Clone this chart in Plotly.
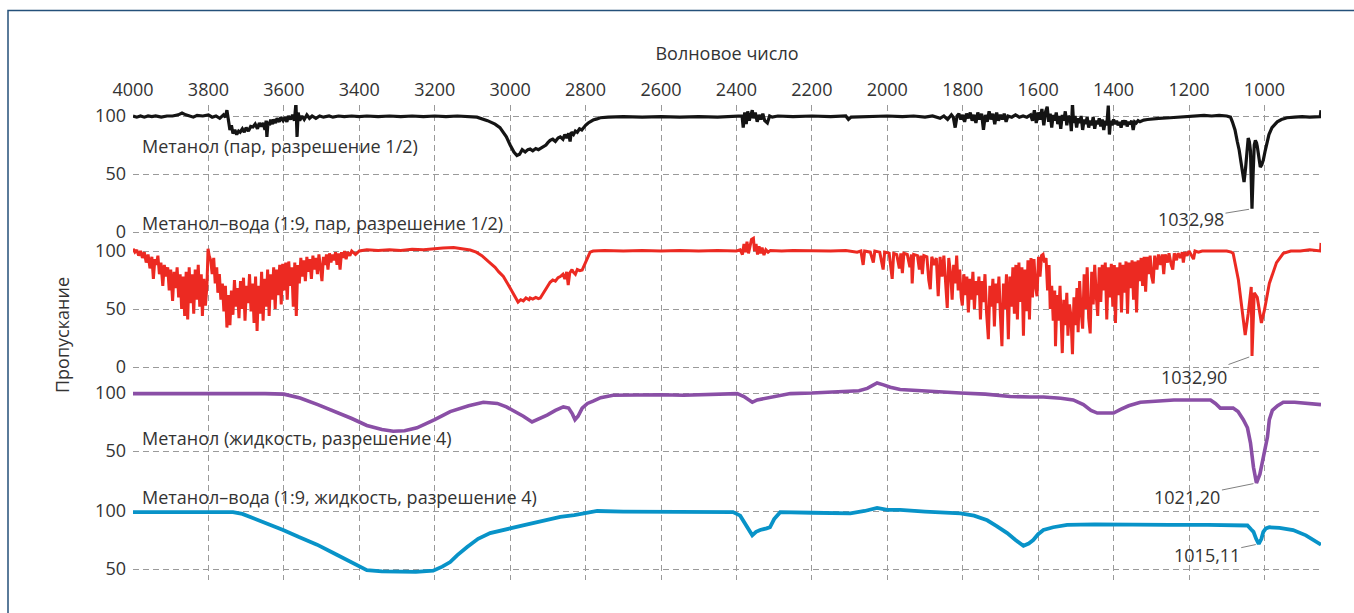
import plotly.graph_objects as go

# ---------------------------------------------------------------------------
# Spectra: (wavenumber, transmittance %) pairs, one list per sample
# ---------------------------------------------------------------------------
X_TICKS = [4000, 3800, 3600, 3400, 3200, 3000, 2800, 2600, 2400, 2200,
           2000, 1800, 1600, 1400, 1200, 1000]
X_RANGE = [4000, 850]

# labelled band minima
PEAK_MV = (1032.98, 20.0)     # methanol vapour
PEAK_MWV = (1032.90, 9.5)     # methanol-water vapour
PEAK_ML = (1021.20, 22.4)     # liquid methanol
PEAK_MWL = (1015.11, 71.6)    # liquid methanol-water

METHANOL_VAPOUR = [
    (4000, 100), (3990, 99), (3980, 100), (3970, 99), (3960, 100), (3950, 99.5),
    (3940, 100), (3925, 99), (3910, 100), (3895, 100), (3880, 101), (3870, 102.6),
    (3860, 101), (3850, 100), (3840, 99), (3830, 100.5), (3815, 100), (3800, 101),
    (3790, 99), (3780, 100), (3770, 98), (3760, 101), (3755, 99), (3751, 105),
    (3747, 96), (3743, 88), (3739, 92), (3735, 85), (3730, 88), (3725, 84),
    (3720, 87), (3716, 86), (3710, 89), (3705, 86), (3700, 90), (3694, 87),
    (3688, 91), (3682, 90.5), (3676, 93), (3670, 89), (3665, 94), (3660, 91),
    (3655, 94), (3650, 88), (3647, 96), (3645, 82), (3642, 95), (3638, 92),
    (3635, 97), (3630, 93), (3627, 97), (3622, 94), (3618, 98), (3612, 95),
    (3608, 99), (3602, 96), (3597, 99), (3592, 95), (3588, 100), (3582, 97),
    (3577, 101), (3572, 96), (3568, 111), (3565, 82), (3562, 103), (3558, 96),
    (3552, 100), (3546, 97), (3539, 101), (3532, 98), (3525, 100), (3515, 98),
    (3505, 100), (3495, 99), (3480, 100), (3470, 99), (3455, 100), (3440, 99.5),
    (3420, 100), (3400, 99.5), (3380, 100), (3350, 99.5), (3320, 100), (3290, 99.5),
    (3260, 100), (3230, 99.5), (3200, 100), (3170, 99.5), (3140, 100), (3110, 99.5),
    (3088, 99), (3060, 96), (3040, 93), (3027, 90), (3010, 82), (3000, 75),
    (2990, 69), (2982, 66), (2975, 67), (2968, 71), (2960, 69), (2953, 71),
    (2947, 71.5), (2940, 70), (2932, 72), (2925, 71), (2920, 72), (2912, 74),
    (2905, 75), (2900, 77), (2894, 79), (2887, 80), (2880, 78), (2873, 81),
    (2867, 82), (2860, 80), (2855, 84), (2850, 81), (2845, 85), (2841, 78),
    (2838, 86), (2832, 84), (2827, 87), (2822, 86), (2816, 89), (2810, 88),
    (2806, 90), (2800, 92), (2793, 94), (2787, 95.5), (2780, 96.5), (2770, 97.5),
    (2761, 98.5), (2740, 99), (2700, 99.5), (2650, 99), (2600, 99.5), (2550, 99),
    (2500, 99.5), (2450, 99), (2390, 99.5), (2385, 100), (2382, 90), (2378, 103),
    (2374, 93), (2370, 104), (2366, 96), (2362, 101), (2358, 105), (2355, 98),
    (2350, 103), (2345, 95), (2340, 101), (2335, 97), (2330, 102), (2325, 96),
    (2318, 94), (2312, 100), (2305, 99), (2290, 100), (2250, 99.5), (2200, 100),
    (2150, 99.5), (2110, 100), (2103, 97), (2096, 99), (2050, 99.5), (2000, 100),
    (1960, 99.5), (1930, 100), (1900, 99), (1880, 100), (1860, 98), (1850, 100),
    (1840, 97), (1830, 101), (1825, 99), (1820, 90), (1815, 100), (1810, 102),
    (1805, 97), (1800, 101), (1795, 95), (1790, 102), (1785, 98), (1780, 103),
    (1775, 96), (1770, 101), (1765, 94), (1760, 103), (1755, 97), (1750, 102),
    (1745, 88), (1740, 101), (1735, 95), (1730, 104), (1725, 97), (1720, 102),
    (1715, 93), (1710, 103), (1705, 96), (1700, 101), (1695, 97), (1690, 102),
    (1685, 95), (1680, 100), (1670, 99), (1660, 101), (1650, 99), (1640, 100),
    (1630, 99), (1620, 101), (1615, 96), (1610, 105), (1605, 94), (1600, 103),
    (1595, 97), (1590, 106), (1585, 92), (1580, 104), (1576, 108), (1572, 95),
    (1568, 102), (1564, 90), (1560, 101), (1556, 96), (1552, 103), (1548, 93),
    (1544, 100), (1540, 89), (1536, 101), (1532, 96), (1528, 104), (1524, 92),
    (1520, 100), (1515, 98), (1512, 87), (1509, 111), (1506, 94), (1502, 100),
    (1498, 90), (1494, 98), (1490, 94), (1486, 100), (1482, 88), (1478, 97),
    (1474, 93), (1470, 99), (1466, 90), (1462, 96), (1458, 92), (1454, 99),
    (1450, 89), (1446, 96), (1442, 93), (1438, 98), (1434, 91), (1430, 97),
    (1426, 88), (1422, 96), (1418, 92), (1414, 109), (1411, 84), (1408, 96),
    (1404, 92), (1400, 97), (1396, 93), (1392, 96), (1388, 92), (1384, 95),
    (1380, 90), (1376, 96), (1372, 94), (1368, 96), (1364, 91), (1360, 95),
    (1356, 93), (1352, 96), (1348, 88), (1344, 95), (1340, 94), (1335, 96),
    (1330, 95), (1320, 96.5), (1310, 97), (1300, 97.5), (1280, 98), (1250, 98.5),
    (1220, 99), (1200, 99.5), (1180, 100), (1160, 100.5), (1140, 100), (1120, 100.5),
    (1100, 100), (1090, 99), (1085, 95), (1078, 88), (1072, 78), (1067, 70.7),
    (1062, 60), (1058, 50), (1054, 43), (1050, 55), (1046, 70), (1043, 81),
    (1040, 78), (1037, 70), (1035, 45), PEAK_MV, (1030, 50), (1027, 75),
    (1024, 79), (1021, 77), (1019, 74), (1015, 66), (1011, 56), (1007, 58),
    (1003, 62), (998, 70), (993, 78), (988, 84), (980, 90), (972, 93),
    (966, 95), (955, 97), (940, 98.5), (920, 99), (900, 99.5), (880, 99),
    (860, 99.5), (852, 99.5), (850, 105),
]

METHANOL_WATER_VAPOUR = [
    (4000, 102), (3995, 99), (3990, 101), (3985, 96), (3980, 100), (3975, 94),
    (3970, 99), (3965, 90), (3960, 97), (3955, 85), (3950, 95), (3946, 76),
    (3942, 93), (3938, 88), (3934, 96), (3930, 80), (3926, 90), (3921, 70),
    (3917, 88), (3912, 78), (3908, 86), (3904, 66), (3900, 84), (3895, 57),
    (3891, 82), (3887, 68), (3883, 86), (3879, 60), (3875, 80), (3871, 50),
    (3867, 78), (3863, 44), (3859, 82), (3855, 41), (3851, 86), (3847, 55),
    (3843, 80), (3839, 46), (3835, 84), (3831, 58), (3827, 88), (3823, 52),
    (3819, 80), (3816, 44), (3812, 76), (3808, 53), (3804, 70), (3801, 102),
    (3798, 96), (3794, 92), (3790, 80), (3786, 94), (3782, 72), (3778, 86),
    (3775, 64), (3771, 80), (3767, 58), (3763, 72), (3759, 48), (3755, 70),
    (3751, 34), (3747, 62), (3743, 36), (3739, 66), (3735, 45), (3731, 75),
    (3727, 52), (3723, 68), (3719, 42), (3715, 74), (3711, 50), (3707, 77),
    (3703, 40), (3699, 70), (3695, 55), (3691, 80), (3687, 48), (3683, 72),
    (3679, 38), (3675, 78), (3671, 31), (3667, 70), (3663, 46), (3659, 82),
    (3655, 40), (3651, 76), (3647, 52), (3643, 84), (3639, 44), (3635, 80),
    (3631, 58), (3627, 86), (3623, 50), (3619, 84), (3615, 62), (3611, 88),
    (3607, 54), (3603, 89), (3599, 66), (3595, 90), (3591, 58), (3587, 91),
    (3583, 70), (3579, 86), (3575, 52), (3571, 90), (3567, 44), (3563, 88),
    (3559, 72), (3555, 94), (3551, 78), (3547, 92), (3543, 74), (3539, 95),
    (3535, 82), (3531, 93), (3527, 76), (3523, 96), (3519, 84), (3515, 94),
    (3511, 80), (3507, 97), (3503, 86), (3499, 74), (3495, 95), (3491, 88),
    (3487, 97), (3483, 84), (3479, 98), (3475, 90), (3471, 97), (3467, 92),
    (3463, 99), (3459, 88), (3455, 98), (3451, 84), (3447, 99), (3443, 94),
    (3439, 100), (3435, 93), (3431, 99), (3425, 96), (3420, 100), (3410, 97),
    (3400, 100), (3380, 101), (3350, 100.5), (3320, 101), (3290, 100.5), (3260, 101.5),
    (3230, 101), (3200, 101.5), (3178, 102.5), (3150, 103), (3125, 102), (3106, 100.8),
    (3090, 99), (3075, 96), (3058, 91), (3053, 89.6), (3040, 86), (3030, 82),
    (3018, 78), (3005, 71), (2992, 64), (2985, 60), (2979, 56), (2972, 58),
    (2965, 57), (2958, 59.5), (2950, 58), (2947, 59.5), (2940, 58.5), (2932, 60),
    (2925, 59), (2920, 59.5), (2912, 64), (2905, 67), (2900, 70), (2894, 73),
    (2887, 75), (2880, 74), (2873, 77), (2867, 78), (2860, 80), (2855, 76),
    (2850, 82), (2846, 70.7), (2842, 81), (2836, 84), (2833, 82), (2827, 80),
    (2822, 84), (2815, 83), (2809, 83.6), (2803, 88), (2796, 94), (2788, 99),
    (2780, 100), (2750, 100.5), (2700, 100), (2650, 100.5), (2600, 100), (2550, 100.5),
    (2500, 100), (2450, 100.5), (2400, 100), (2390, 101), (2384, 97), (2380, 106),
    (2376, 99), (2372, 108), (2368, 98), (2364, 104), (2360, 110), (2355, 111),
    (2352, 100), (2348, 106), (2344, 97), (2340, 104), (2336, 98), (2332, 103),
    (2327, 96.5), (2322, 101), (2316, 99), (2310, 100.5), (2280, 100), (2250, 100.5),
    (2200, 100), (2150, 100), (2110, 100.5), (2100, 100), (2080, 99), (2070, 100),
    (2064, 88), (2060, 100), (2045, 99), (2037, 90), (2033, 100), (2020, 99),
    (2011, 84), (2007, 99), (1995, 98), (1987, 76), (1983, 98), (1975, 97),
    (1968, 85), (1964, 98), (1960, 81), (1956, 98), (1947, 97), (1940, 86),
    (1936, 97), (1934, 72), (1930, 97), (1920, 96), (1915, 84), (1911, 96),
    (1907, 80), (1903, 96), (1895, 95), (1890, 75), (1886, 67), (1882, 95),
    (1875, 88), (1870, 94), (1865, 61), (1860, 95), (1855, 78), (1850, 96),
    (1845, 70), (1841, 51), (1837, 94), (1832, 80), (1828, 58), (1824, 88),
    (1820, 72), (1816, 96), (1812, 66), (1808, 84), (1804, 60), (1801, 53),
    (1797, 80), (1793, 62), (1789, 78), (1785, 47), (1781, 76), (1777, 58),
    (1773, 82), (1769, 50), (1765, 74), (1761, 62), (1757, 78), (1753, 41),
    (1749, 74), (1745, 56), (1741, 80), (1737, 48), (1732, 24), (1728, 70),
    (1724, 52), (1720, 76), (1716, 35), (1712, 72), (1708, 55), (1704, 78),
    (1700, 44), (1696, 18), (1692, 72), (1688, 50), (1684, 80), (1679, 24),
    (1675, 78), (1671, 52), (1667, 86), (1663, 46), (1659, 88), (1655, 41),
    (1651, 90), (1647, 56), (1643, 86), (1639, 27), (1635, 84), (1631, 48),
    (1627, 92), (1623, 41), (1619, 94), (1615, 60), (1611, 93), (1607, 70),
    (1603, 61), (1599, 95), (1595, 78), (1591, 96), (1587, 97), (1583, 90),
    (1579, 94), (1575, 66), (1571, 88), (1568, 50), (1564, 70), (1560, 40),
    (1556, 66), (1554, 18), (1550, 62), (1546, 40), (1542, 70), (1538, 26),
    (1536, 12), (1532, 58), (1528, 36), (1524, 64), (1521, 27), (1517, 54),
    (1513, 44), (1509, 11), (1505, 60), (1501, 36), (1497, 68), (1494, 30),
    (1490, 74), (1486, 48), (1482, 33), (1478, 80), (1474, 50), (1470, 86),
    (1466, 42), (1462, 29), (1458, 82), (1454, 54), (1450, 88), (1446, 62),
    (1442, 44), (1438, 86), (1434, 56), (1430, 88), (1426, 66), (1422, 90),
    (1418, 41), (1414, 86), (1410, 60), (1406, 89), (1402, 52), (1398, 88),
    (1395, 38), (1391, 86), (1387, 62), (1383, 90), (1379, 47), (1375, 88),
    (1371, 64), (1367, 91), (1363, 46), (1359, 90), (1355, 68), (1351, 92),
    (1347, 58), (1343, 91), (1339, 47), (1335, 92), (1331, 74), (1327, 94),
    (1323, 70), (1319, 95), (1315, 65), (1311, 95), (1307, 80), (1303, 96),
    (1299, 78), (1295, 72), (1291, 96), (1285, 84), (1281, 97), (1275, 88),
    (1271, 97), (1267, 80), (1263, 97), (1257, 90), (1253, 98), (1247, 88),
    (1243, 84), (1239, 98), (1233, 92), (1229, 98), (1222, 94), (1218, 99),
    (1215, 90), (1211, 99), (1205, 96), (1200, 100), (1194, 97), (1188, 93),
    (1184, 100), (1175, 99), (1165, 100), (1140, 100), (1100, 100), (1088, 99),
    (1083, 98), (1069, 75), (1059, 46.6), (1051, 27.6), (1043, 46), (1035, 69),
    PEAK_MWV, (1029, 55), (1027, 64), (1019, 60), (1008, 38), (1000, 49),
    (987, 72), (968, 90), (950, 98), (930, 100), (905, 100), (880, 101),
    (860, 100), (851, 100), (850, 107),
]

METHANOL_LIQUID = [
    (4000, 99.5), (3900, 99.5), (3800, 99.8), (3700, 99.5), (3650, 99.5), (3600, 99),
    (3557, 95.6), (3510, 90), (3470, 85), (3420, 78), (3380, 72), (3340, 68.5),
    (3310, 67), (3280, 67.5), (3247, 70), (3200, 77), (3159, 84), (3110, 89),
    (3071, 92), (3034, 91), (3010, 88), (2992, 85), (2965, 80), (2942, 75),
    (2920, 78), (2902, 81), (2880, 85), (2859, 88), (2845, 87), (2835, 82),
    (2828, 77), (2820, 80), (2809, 87), (2795, 91), (2780, 93), (2760, 96),
    (2727, 98), (2650, 98.5), (2600, 98.5), (2541, 98), (2500, 98.5), (2450, 99),
    (2398, 99.5), (2380, 97), (2365, 93), (2358, 92), (2345, 94), (2330, 95),
    (2318, 96), (2290, 98), (2257, 99.5), (2200, 100), (2150, 100.5), (2098, 101),
    (2075, 102), (2053, 104), (2035, 107.5), (2027, 108.6), (2010, 107), (1992, 105),
    (1966, 103), (1900, 101.5), (1850, 100.5), (1806, 100), (1740, 99), (1674, 97),
    (1620, 96.5), (1586, 96.5), (1540, 95.5), (1507, 94), (1480, 90), (1460, 85),
    (1443, 82.7), (1420, 82.5), (1400, 82.7), (1380, 86), (1360, 89), (1329, 92),
    (1280, 93.5), (1240, 94), (1196, 94), (1143, 94), (1130, 91), (1117, 87),
    (1100, 87), (1083, 87), (1070, 84), (1056, 77), (1045, 70), (1037, 57),
    (1029, 36), PEAK_ML, (1012, 30), (1003, 45), (992, 62), (987, 77),
    (979, 85), (965, 89), (950, 92), (920, 92), (878, 91), (860, 90.5), (850, 90),
]

METHANOL_WATER_LIQUID = [
    (4000, 99), (3900, 99), (3800, 99), (3735, 99), (3710, 97.5), (3690, 95),
    (3650, 90), (3602, 83.6), (3560, 77.5), (3512, 71), (3470, 64), (3424, 56),
    (3400, 52), (3380, 49), (3340, 48), (3300, 47.5), (3250, 47.5), (3204, 48.5),
    (3180, 52), (3159, 56), (3140, 62), (3114, 69), (3085, 76), (3053, 81),
    (3025, 83.5), (3000, 85), (2960, 88), (2928, 90.5), (2900, 92.5), (2867, 95),
    (2830, 96.5), (2801, 98), (2769, 100), (2700, 99.5), (2600, 99.5), (2500, 99.5),
    (2409, 99), (2390, 96), (2382, 92), (2370, 85), (2358, 79), (2348, 82),
    (2337, 83.6), (2320, 85), (2311, 86), (2300, 93), (2284, 99), (2200, 98.5),
    (2150, 98.5), (2098, 98), (2060, 100), (2027, 102.6), (2000, 101), (1966, 101),
    (1900, 99.5), (1850, 98.5), (1806, 98), (1770, 96), (1735, 92), (1710, 87),
    (1682, 81), (1660, 75), (1639, 70), (1625, 72), (1613, 75), (1600, 80),
    (1586, 83.6), (1560, 86), (1523, 88), (1450, 88.5), (1347, 88), (1250, 88),
    (1150, 88), (1060, 88), (1045, 87.5), (1035, 84), (1029, 82), (1022, 76),
    PEAK_MWL, (1008, 76), (1003, 82), (996, 85), (987, 86), (960, 85.5),
    (924, 83.6), (890, 79), (870, 75), (855, 71.6), (850, 71),
]

SERIES = [METHANOL_VAPOUR, METHANOL_WATER_VAPOUR, METHANOL_LIQUID, METHANOL_WATER_LIQUID]
PEAKS = [PEAK_MV, PEAK_MWV, PEAK_ML, PEAK_MWL]
PEAK_LABELS = ["1032,98", "1032,90", "1021,20", "1015,11"]
SERIES_LABELS = [
    "Метанол (пар, разрешение 1/2)",
    "Метанол–вода (1:9, пар, разрешение 1/2)",
    "Метанол (жидкость, разрешение 4)",
    "Метанол–вода (1:9, жидкость, разрешение 4)",
]
SERIES_COLORS = ["#141414", "#ec2a22", "#8a4fa6", "#0893c8"]
SERIES_WIDTHS = [3.2, 3.0, 3.6, 3.8]
Y_TICKS = [[0, 50, 100], [0, 50, 100], [50, 100], [50, 100]]

# ---------------------------------------------------------------------------
# Layout geometry
# ---------------------------------------------------------------------------
W, H = 1354, 613
M_L, M_R, M_T, M_B = 133, 33, 105, 33
PLOT_H = H - M_T - M_B
PX_PER_UNIT = 1.16                 # vertical scale shared by all four strips
STRIP_TOP = [116, 251, 393, 511]   # pixel row of the 100 % level of each strip

# value ranges so that every stacked y axis spans the whole plotting area
Y_RANGES = []
for top in STRIP_TOP:
    lo = 100 - (H - M_B - top) / PX_PER_UNIT
    hi = 100 + (top - M_T) / PX_PER_UNIT
    Y_RANGES.append([lo, hi])

LABEL_ROWS = [146, 223, 438, 497]          # label centre rows (pixels)
PEAK_OFFSETS = [(-61, 10), (-58, 21), (-69, 14), (-52, 11)]

FONT = "Open Sans, Noto Sans, sans-serif"
TEXT_COLOR = "#333333"
GRID_COLOR = "#9a9a9a"


def paper_y(row):
    return (H - M_B - row) / PLOT_H


fig = go.Figure()

for i, (pts, color, width) in enumerate(zip(SERIES, SERIES_COLORS, SERIES_WIDTHS)):
    wn = [p[0] for p in pts]
    tr = [p[1] for p in pts]
    fig.add_trace(go.Scatter(
        x=wn, y=tr, mode="lines",
        line=dict(color=color, width=width),
        yaxis="y" if i == 0 else f"y{i + 1}",
        showlegend=False, hoverinfo="skip",
    ))

layout_axes = {}
for i, (rng, ticks) in enumerate(zip(Y_RANGES, Y_TICKS)):
    key = "yaxis" if i == 0 else f"yaxis{i + 1}"
    ax = dict(
        range=rng, domain=[0, 1], anchor="x",
        tickvals=ticks, ticktext=[str(t) for t in ticks],
        ticks="", ticklabelstandoff=6,
        showgrid=True, gridcolor=GRID_COLOR, gridwidth=1, griddash="6px,4px",
        zeroline=False, showline=False,
        tickfont=dict(family=FONT, size=18, color=TEXT_COLOR),
    )
    if i > 0:
        ax["overlaying"] = "y"
    layout_axes[key] = ax

fig.update_layout(
    width=W, height=H,
    margin=dict(l=M_L, r=M_R, t=M_T, b=M_B, pad=0),
    paper_bgcolor="white", plot_bgcolor="white",
    font=dict(family=FONT, size=18, color=TEXT_COLOR),
    xaxis=dict(
        range=X_RANGE, side="top",
        tickvals=X_TICKS, ticktext=[str(t) for t in X_TICKS],
        ticks="", ticklabelstandoff=4,
        showgrid=True, gridcolor=GRID_COLOR, gridwidth=1, griddash="6px,4px",
        zeroline=False, showline=False,
        tickfont=dict(family=FONT, size=18, color=TEXT_COLOR),
        title=dict(text="Волновое число", standoff=12,
                   font=dict(family=FONT, size=18, color=TEXT_COLOR)),
    ),
    **layout_axes,
)

annotations = [
    dict(text="Пропускание", textangle=-90, xref="paper", yref="paper",
         x=(62 - M_L) / (W - M_L - M_R), y=paper_y(335),
         xanchor="center", yanchor="middle", showarrow=False,
         font=dict(family=FONT, size=18, color=TEXT_COLOR)),
]
for label, row in zip(SERIES_LABELS, LABEL_ROWS):
    annotations.append(dict(
        text=label, xref="paper", yref="paper",
        x=(140 - M_L) / (W - M_L - M_R), y=paper_y(row),
        xanchor="left", yanchor="middle", showarrow=False,
        font=dict(family=FONT, size=18, color=TEXT_COLOR),
    ))
for i, (peak, label, (ax_off, ay_off)) in enumerate(zip(PEAKS, PEAK_LABELS, PEAK_OFFSETS)):
    annotations.append(dict(
        text=label, x=peak[0], y=peak[1], xref="x",
        yref="y" if i == 0 else f"y{i + 1}",
        showarrow=True, arrowhead=0, arrowwidth=1, arrowcolor="#808080",
        ax=ax_off, ay=ay_off, standoff=3,
        font=dict(family=FONT, size=18, color=TEXT_COLOR),
    ))
fig.update_layout(annotations=annotations)

# thin frame around the figure panel
fig.add_shape(type="rect", xref="paper", yref="paper",
              x0=(8 - M_L) / (W - M_L - M_R), x1=1.2,
              y0=-0.2, y1=paper_y(10.5),
              line=dict(color="#24507a", width=1.5), fillcolor="rgba(0,0,0,0)",
              layer="below")

fig.write_html("out.html")
